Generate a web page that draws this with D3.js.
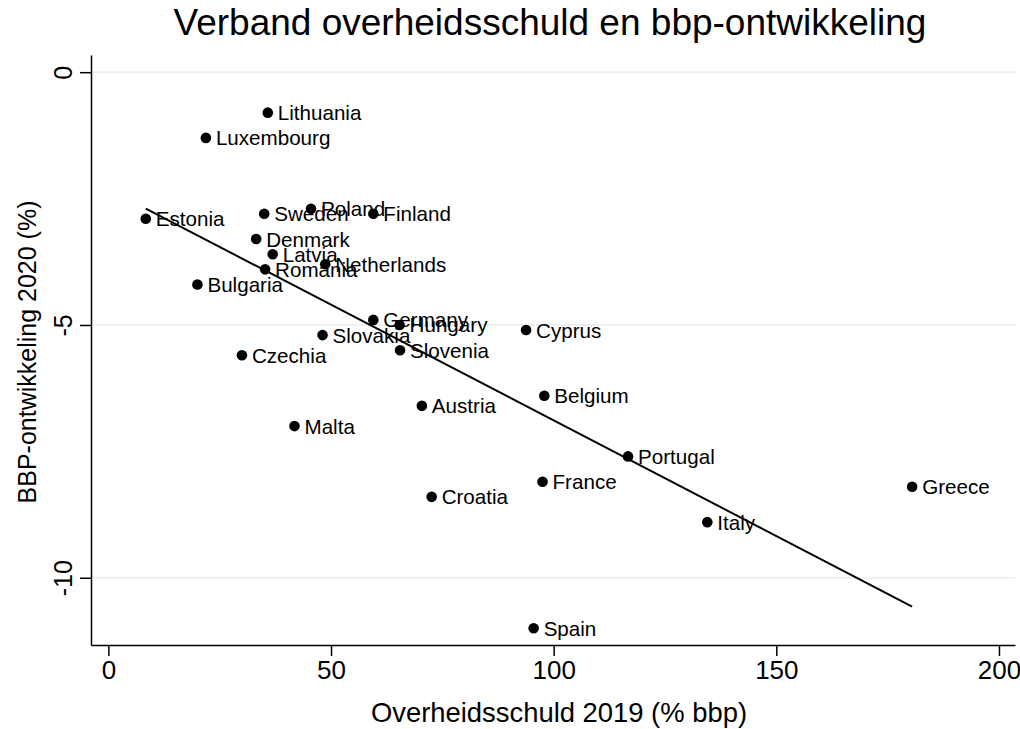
<!DOCTYPE html>
<html>
<head>
<meta charset="utf-8">
<script src="https://cdn.jsdelivr.net/npm/d3@7"></script>
<style>
  body { margin: 0; background: #fff; }
  text { font-family: "Liberation Sans", Arial, sans-serif; fill: #000; }
</style>
</head>
<body>
<div id="chart"></div>
<script>
// data: overheidsschuld 2019 (% bbp) en bbp-groei 2020 (%)
var countries = ['Lithuania', 'Luxembourg', 'Estonia', 'Sweden', 'Poland', 'Finland', 'Denmark', 'Latvia', 'Romania',
    'Netherlands', 'Bulgaria', 'Germany', 'Hungary', 'Slovakia', 'Slovenia', 'Cyprus', 'Czechia', 'Austria',
    'Belgium', 'Malta', 'Croatia', 'France', 'Portugal', 'Italy', 'Greece', 'Spain'];
var debt_2019 = [35.8, 21.9, 8.4, 35.0, 45.5, 59.5, 33.2, 36.9, 35.2,
    48.7, 20.0, 59.5, 65.4, 48.1, 65.5, 93.8, 30.0, 70.4,
    97.9, 41.8, 72.6, 97.5, 116.7, 134.5, 180.5, 95.5];
var gdp_2020 = [-0.8, -1.3, -2.9, -2.8, -2.7, -2.8, -3.3, -3.6, -3.9,
    -3.8, -4.2, -4.9, -5.0, -5.2, -5.5, -5.1, -5.6, -6.6,
    -6.4, -7.0, -8.4, -8.1, -7.6, -8.9, -8.2, -11.0];
var x_ticks = [0, 50, 100, 150, 200];
var y_ticks = [0, -5, -10];

var chart_width = 1020;
var chart_height = 729;

var svg = d3.select('#chart')
    .append('svg')
    .attr('width', chart_width)
    .attr('height', chart_height)

var x_scale = d3.scaleLinear()
    .domain([-3.9, 203.6])
    .range([91, 1015])

var y_scale = d3.scaleLinear()
    .domain([-11.33, 0.34])
    .range([645, 55])

// gridlines
svg.selectAll('.grid')
    .data(y_ticks)
    .enter()
    .append('line')
    .attr('x1', 92)
    .attr('x2', 1015)
    .attr('y1', function (d) { return y_scale(d); })
    .attr('y2', function (d) { return y_scale(d); })
    .attr('stroke', '#eaf1f3')
    .attr('stroke-width', 2)

// axes (plain hyphen as minus, like the original)
var x_axis = d3.axisBottom(x_scale).tickValues(x_ticks).tickSize(11).tickSizeOuter(0).tickFormat(String);
var y_axis = d3.axisLeft(y_scale).tickValues(y_ticks).tickSize(11).tickSizeOuter(0).tickFormat(String);

var gx = svg.append('g')
    .attr('transform', 'translate(0,645)')
    .call(x_axis)
gx.select('.domain').attr('stroke', '#000').attr('stroke-width', 1.5)
gx.selectAll('.tick line').attr('stroke', '#000').attr('stroke-width', 1.5)
gx.selectAll('.tick text')
    .attr('y', 0)
    .attr('dy', 0)
    .attr('transform', 'translate(0,34)')
    .attr('font-size', 26)
    .style('font-family', '"Liberation Sans", Arial, sans-serif')

var gy = svg.append('g')
    .attr('transform', 'translate(91,0)')
    .call(y_axis)
gy.select('.domain').attr('stroke', '#000').attr('stroke-width', 1.5)
gy.selectAll('.tick line').attr('stroke', '#000').attr('stroke-width', 1.5)
gy.selectAll('.tick text')
    .attr('x', 0)
    .attr('dy', 0)
    .attr('text-anchor', 'middle')
    .attr('transform', 'translate(-19,0) rotate(-90)')
    .attr('font-size', 25)
    .style('font-family', '"Liberation Sans", Arial, sans-serif')
svg.selectAll('.tick text').attr('fill', '#000')

// fitted line (least squares)
var x_mean = d3.mean(debt_2019);
var y_mean = d3.mean(gdp_2020);
var sxy = d3.sum(debt_2019, function (d, i) { return (d - x_mean) * (gdp_2020[i] - y_mean); });
var sxx = d3.sum(debt_2019, function (d) { return (d - x_mean) * (d - x_mean); });
var slope = sxy / sxx;
var intercept = y_mean - slope * x_mean;
var x_ext = d3.extent(debt_2019);

svg.append('line')
    .attr('x1', x_scale(x_ext[0]))
    .attr('y1', y_scale(intercept + slope * x_ext[0]))
    .attr('x2', x_scale(x_ext[1]))
    .attr('y2', y_scale(intercept + slope * x_ext[1]))
    .attr('stroke', '#000')
    .attr('stroke-width', 2)

// points
svg.selectAll('circle')
    .data(countries)
    .enter()
    .append('circle')
    .attr('cx', function (d, i) { return x_scale(debt_2019[i]); })
    .attr('cy', function (d, i) { return y_scale(gdp_2020[i]); })
    .attr('r', 5.3)
    .attr('fill', '#000')

// labels
svg.selectAll('.label')
    .data(countries)
    .enter()
    .append('text')
    .attr('class', 'label')
    .text(function (d) { return d; })
    .attr('x', function (d, i) { return x_scale(debt_2019[i]) + 10; })
    .attr('y', function (d, i) { return y_scale(gdp_2020[i]) + 7.5; })
    .attr('font-size', 20.6)

// titles
svg.append('text')
    .text('Verband overheidsschuld en bbp-ontwikkeling')
    .attr('x', 550)
    .attr('y', 35)
    .attr('text-anchor', 'middle')
    .attr('font-size', 37)

svg.append('text')
    .text('Overheidsschuld 2019 (% bbp)')
    .attr('x', 559)
    .attr('y', 722)
    .attr('text-anchor', 'middle')
    .attr('font-size', 27.4)

svg.append('text')
    .text('BBP-ontwikkeling 2020 (%)')
    .attr('transform', 'translate(36,352) rotate(-90)')
    .attr('text-anchor', 'middle')
    .attr('font-size', 25)
</script>
</body>
</html>
